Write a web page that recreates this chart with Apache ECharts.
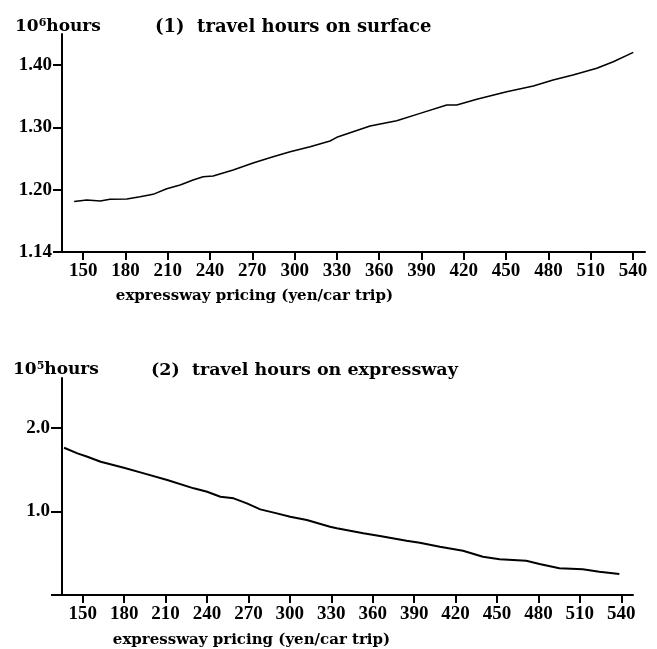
<!DOCTYPE html>
<html><head><meta charset="utf-8">
<script src="https://cdn.jsdelivr.net/npm/echarts@6/dist/echarts.min.js"></script>
<style>html,body{margin:0;padding:0;background:#fff}#c{width:657px;height:649px}</style>
</head><body><div id="c"></div>
<script>
// x ticks (yen/car trip)
const priceTicks = [150,180,210,240,270,300,330,360,390,420,450,480,510,540];
// (1) travel hours on surface (10^6 hours)
const surfPrice = [143.6,152.6,162.1,169.1,181.0,190.4,199.6,209.3,218.8,228.0,235.1,242.2,256.4,270.5,284.7,296.8,311.0,325.1,329.9,353.5,372.4,389.0,407.9,415.0,429.2,450.4,469.3,483.3,497.4,514.3,526.0,540.2];
const surfHours = [1.181,1.1835,1.182,1.1846,1.1851,1.1888,1.1926,1.2016,1.2075,1.2156,1.2209,1.222,1.2316,1.2429,1.253,1.261,1.269,1.2782,1.2841,1.3022,1.3108,1.3226,1.336,1.336,1.3451,1.3573,1.3665,1.3761,1.3841,1.3949,1.4055,1.4205];
const surfTicks = [1.10,1.20,1.30,1.40];
const surfTickLabels = ['1.14','1.20','1.30','1.40'];
// (2) travel hours on expressway (10^5 hours)
const expPrice = [136.5,146.2,153.4,163.0,179.8,194.3,211.2,230.4,240.1,249.7,259.3,268.9,278.6,290.6,300.2,312.3,329.1,334.0,353.2,365.2,384.5,394.1,408.6,425.4,439.8,451.9,471.2,480.8,495.2,512.1,524.1,538.6];
const expHours = [1.764,1.697,1.656,1.596,1.525,1.457,1.377,1.278,1.237,1.177,1.158,1.098,1.026,0.978,0.938,0.898,0.818,0.799,0.739,0.707,0.650,0.626,0.578,0.531,0.459,0.428,0.411,0.371,0.320,0.308,0.279,0.251];
const expTicks = [0,1.0,2.0];
const expLabelTicks = [1.0,2.0];

const F = 'DejaVu Serif';
const NF = 'Liberation Serif';
const chart = echarts.init(document.getElementById('c'));
const tickLabel = {fontFamily: NF, fontWeight: 'bold', fontSize: 19, color: '#000'};
function xAx(gi, padR, gap){
  return {type:'value', gridIndex:gi, min:135, max:548.5,
    axisLine:{lineStyle:{color:'#000', width:2}},
    axisTick:{customValues:priceTicks, length:8, lineStyle:{color:'#000', width:2}},
    axisLabel:Object.assign({customValues:priceTicks, margin:10}, tickLabel),
    splitLine:{show:false},
    name:'expressway pricing (yen/car trip)', nameLocation:'middle', nameGap:gap,
    nameTextStyle:{fontFamily:F, fontWeight:'bold', fontSize:15, color:'#000', padding:[0,padR,0,0]}};
}
const unitRich = {a:{fontFamily:F,fontWeight:'bold',fontSize:17,color:'#000'}, s:{fontFamily:F,fontWeight:'bold',fontSize:11,color:'#000',verticalAlign:'top',padding:[0,0,7,0]}};
const titleStyle = {fontFamily:F,fontWeight:'bold',fontSize:18,color:'#000'};
chart.setOption({
  animation:false,
  title:[
    {left:10, top:13, text:'{a|10}{s|6}{a|hours}', textStyle:{rich:unitRich}},
    {left:150, top:13, text:'(1)  travel hours on surface', textStyle:titleStyle},
    {left:8, top:356, text:'{a|10}{s|5}{a|hours}', textStyle:{rich:unitRich}},
    {left:146, top:356, text:'(2)  travel hours on expressway', textStyle:{fontFamily:F,fontWeight:'bold',fontSize:17.5,color:'#000'}}
  ],
  grid:[
    {left:62, top:34, width:583, height:218, outerBoundsMode:'none', containLabel:false},
    {left:62, top:378, width:571, height:217, outerBoundsMode:'none', containLabel:false}
  ],
  xAxis:[xAx(0,198,37), xAx(1,192,38)],
  yAxis:[
    {type:'value', gridIndex:0, min:1.10, max:1.45,
      axisLine:{show:true, lineStyle:{color:'#000', width:2}},
      axisTick:{show:true, customValues:surfTicks, length:9, lineStyle:{color:'#000', width:2}},
      axisLabel:Object.assign({customValues:surfTicks, margin:10,
        formatter:function(v){ const i = surfTicks.findIndex(t=>Math.abs(t-v)<1e-6); return i>=0 ? surfTickLabels[i] : ''; }}, tickLabel),
      splitLine:{show:false}},
    {type:'value', gridIndex:1, min:0, max:2.6,
      axisLine:{show:true, lineStyle:{color:'#000', width:2}},
      axisTick:{show:true, customValues:expTicks, length:11, lineStyle:{color:'#000', width:2}},
      axisLabel:Object.assign({customValues:expLabelTicks, margin:12, formatter:v=>v.toFixed(1)}, tickLabel),
      splitLine:{show:false}}
  ],
  series:[
    {type:'line', xAxisIndex:0, yAxisIndex:0, data:surfPrice.map((p,i)=>[p,surfHours[i]]), showSymbol:false, lineStyle:{color:'#000', width:1.5}},
    {type:'line', xAxisIndex:1, yAxisIndex:1, data:expPrice.map((p,i)=>[p,expHours[i]]), showSymbol:false, lineStyle:{color:'#000', width:2}}
  ]
});
</script></body></html>
